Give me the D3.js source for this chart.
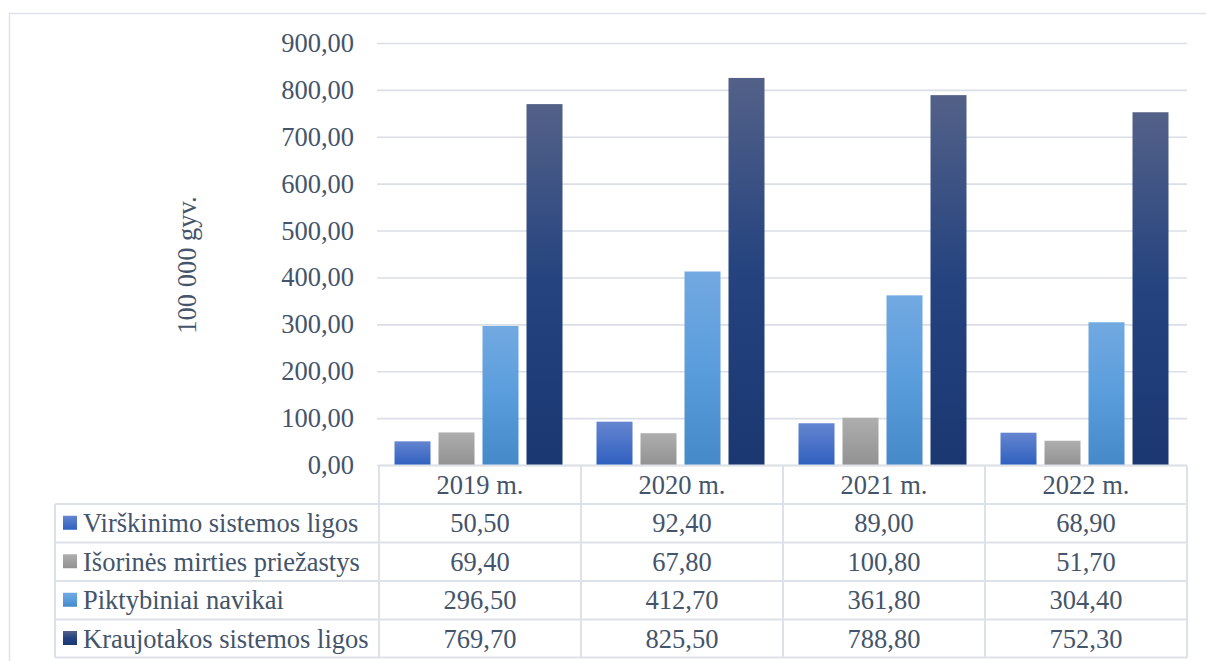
<!DOCTYPE html>
<html>
<head>
<meta charset="utf-8">
<script src="https://cdn.jsdelivr.net/npm/d3@7"></script>
<style>
  html, body { margin: 0; padding: 0; background: #fff; }
  svg { display: block; }
  svg text { font-family: "Liberation Serif", "Times New Roman", serif; fill: #44546a; }
</style>
</head>
<body>
<svg id="chart" width="1206" height="661"></svg>
<script>
// Mirtingumas pagal priežastis, 100 000 gyv.
const years = ["2019 m.", "2020 m.", "2021 m.", "2022 m."];
const seriesNames = [
  "Virškinimo sistemos ligos",
  "Išorinės mirties priežastys",
  "Piktybiniai navikai",
  "Kraujotakos sistemos ligos"
];
const virskinimo = [50.5, 92.4, 89.0, 68.9];
const isorines = [69.4, 67.8, 100.8, 51.7];
const piktybiniai = [296.5, 412.7, 361.8, 304.4];
const kraujotakos = [769.7, 825.5, 788.8, 752.3];
const yTicks = [0, 100, 200, 300, 400, 500, 600, 700, 800, 900];
const yTitle = "100 000 gyv.";

const seriesValues = [virskinimo, isorines, piktybiniai, kraujotakos];
const series = seriesNames.map((name, i) => ({ name, values: seriesValues[i], key: "s" + i }));

// Gradient fills (top → bottom) for each series
const gradients = [
  [["0%", "#6585d0"], ["100%", "#2f60bf"]],
  [["0%", "#aeaeae"], ["100%", "#929292"]],
  [["0%", "#72a9e1"], ["50%", "#5a9ddd"], ["100%", "#4589c9"]],
  [["0%", "#536188"], ["50%", "#24437f"], ["100%", "#1a3771"]]
];

const FONT = "'Liberation Serif', 'Times New Roman', serif";
const FS = 26.5;

const svg = d3.select("#chart");
const defs = svg.append("defs");
gradients.forEach((stops, i) => {
  const g = defs.append("linearGradient")
    .attr("id", "grad" + i)
    .attr("x1", 0).attr("y1", 0).attr("x2", 0).attr("y2", 1);
  stops.forEach(([off, col]) => g.append("stop").attr("offset", off).attr("stop-color", col));
});

const lineColor = "#dde1e8";
const fmt = v => d3.format(".2f")(v).replace(".", ",");

// Outer frame (right and bottom edges run past the canvas)
svg.append("rect")
  .attr("x", 9.5).attr("y", 13.5)
  .attr("width", 1210).attr("height", 660)
  .attr("fill", "none").attr("stroke", lineColor).attr("stroke-width", 1.5);

const plotLeft = 379, plotRight = 1187, plotTop = 43, plotBottom = 465;

const x = d3.scaleBand().domain(years).range([plotLeft, plotRight]).padding(0);
const xInner = d3.scaleBand().domain(series.map(s => s.key))
  .range([15.5, 183.5]).paddingInner(8 / 44).paddingOuter(0);
const y = d3.scaleLinear().domain([0, 900]).range([plotBottom, plotTop]);

// Gridlines and tick labels via axis
const yAxis = d3.axisLeft(y).tickValues(yTicks).tickFormat(fmt)
  .tickSize(-(plotRight - plotLeft + 2)).tickPadding(23);
const gy = svg.append("g")
  .attr("transform", `translate(${plotLeft - 2},0)`)
  .call(yAxis)
  .attr("font-family", FONT)
  .attr("font-size", FS);
gy.select(".domain").remove();
gy.selectAll(".tick line").attr("stroke", "#dadee5").attr("stroke-width", 1.6);
gy.selectAll(".tick text")
  .attr("fill", "#44546a")
  .style("font-family", FONT)
  .style("font-size", FS + "px");

// Axis title
svg.append("text")
  .attr("transform", `translate(196,265) rotate(-90)`)
  .attr("text-anchor", "middle")
  .style("font-family", FONT)
  .style("font-size", FS + "px")
  .text(yTitle);

// Bars
const groups = svg.append("g").selectAll("g")
  .data(series).join("g")
  .attr("fill", (d, i) => `url(#grad${i})`);
groups.selectAll("rect")
  .data(d => d.values.map((v, j) => ({ key: d.key, year: years[j], value: v })))
  .join("rect")
  .attr("x", d => x(d.year) + xInner(d.key))
  .attr("width", xInner.bandwidth())
  .attr("y", d => y(d.value))
  .attr("height", d => y(0) - y(d.value));

// Data table
const tableLeft = 55;
const headerTop = plotBottom + 0.5;
const rowEdges = [headerTop, 504, 542.5, 581, 619.5, 657.5];
const table = svg.append("g");

// Horizontal lines
table.append("line")
  .attr("x1", plotLeft).attr("x2", plotRight)
  .attr("y1", rowEdges[0]).attr("y2", rowEdges[0]);
rowEdges.slice(1).forEach(yy => {
  table.append("line").attr("x1", tableLeft).attr("x2", plotRight)
    .attr("y1", yy).attr("y2", yy);
});
// Vertical lines
table.append("line").attr("x1", tableLeft).attr("x2", tableLeft)
  .attr("y1", rowEdges[1]).attr("y2", rowEdges[5]);
years.forEach(yr => {
  table.append("line").attr("x1", x(yr)).attr("x2", x(yr))
    .attr("y1", rowEdges[0]).attr("y2", rowEdges[5]);
});
table.append("line").attr("x1", plotRight).attr("x2", plotRight)
  .attr("y1", rowEdges[0]).attr("y2", rowEdges[5]);
table.selectAll("line").attr("stroke", lineColor).attr("stroke-width", 2);

const cellText = sel => sel
  .style("font-family", FONT)
  .style("font-size", FS + "px");

// Header labels
table.selectAll("text.year")
  .data(years).join("text")
  .attr("class", "year")
  .attr("x", d => x(d) + x.bandwidth() / 2)
  .attr("y", (rowEdges[0] + rowEdges[1]) / 2 + 9)
  .attr("text-anchor", "middle")
  .call(cellText)
  .text(d => d);

// Rows: legend key, series name, values
series.forEach((s, i) => {
  const mid = (rowEdges[i + 1] + rowEdges[i + 2]) / 2;
  table.append("rect")
    .attr("x", 63).attr("y", mid - 7.5)
    .attr("width", 14).attr("height", 14)
    .attr("fill", `url(#grad${i})`);
  table.append("text")
    .attr("x", 83).attr("y", mid + 9)
    .call(cellText)
    .text(s.name);
  s.values.forEach((v, j) => {
    table.append("text")
      .attr("x", x(years[j]) + x.bandwidth() / 2)
      .attr("y", mid + 9)
      .attr("text-anchor", "middle")
      .call(cellText)
      .text(fmt(v));
  });
});
</script>
</body>
</html>
